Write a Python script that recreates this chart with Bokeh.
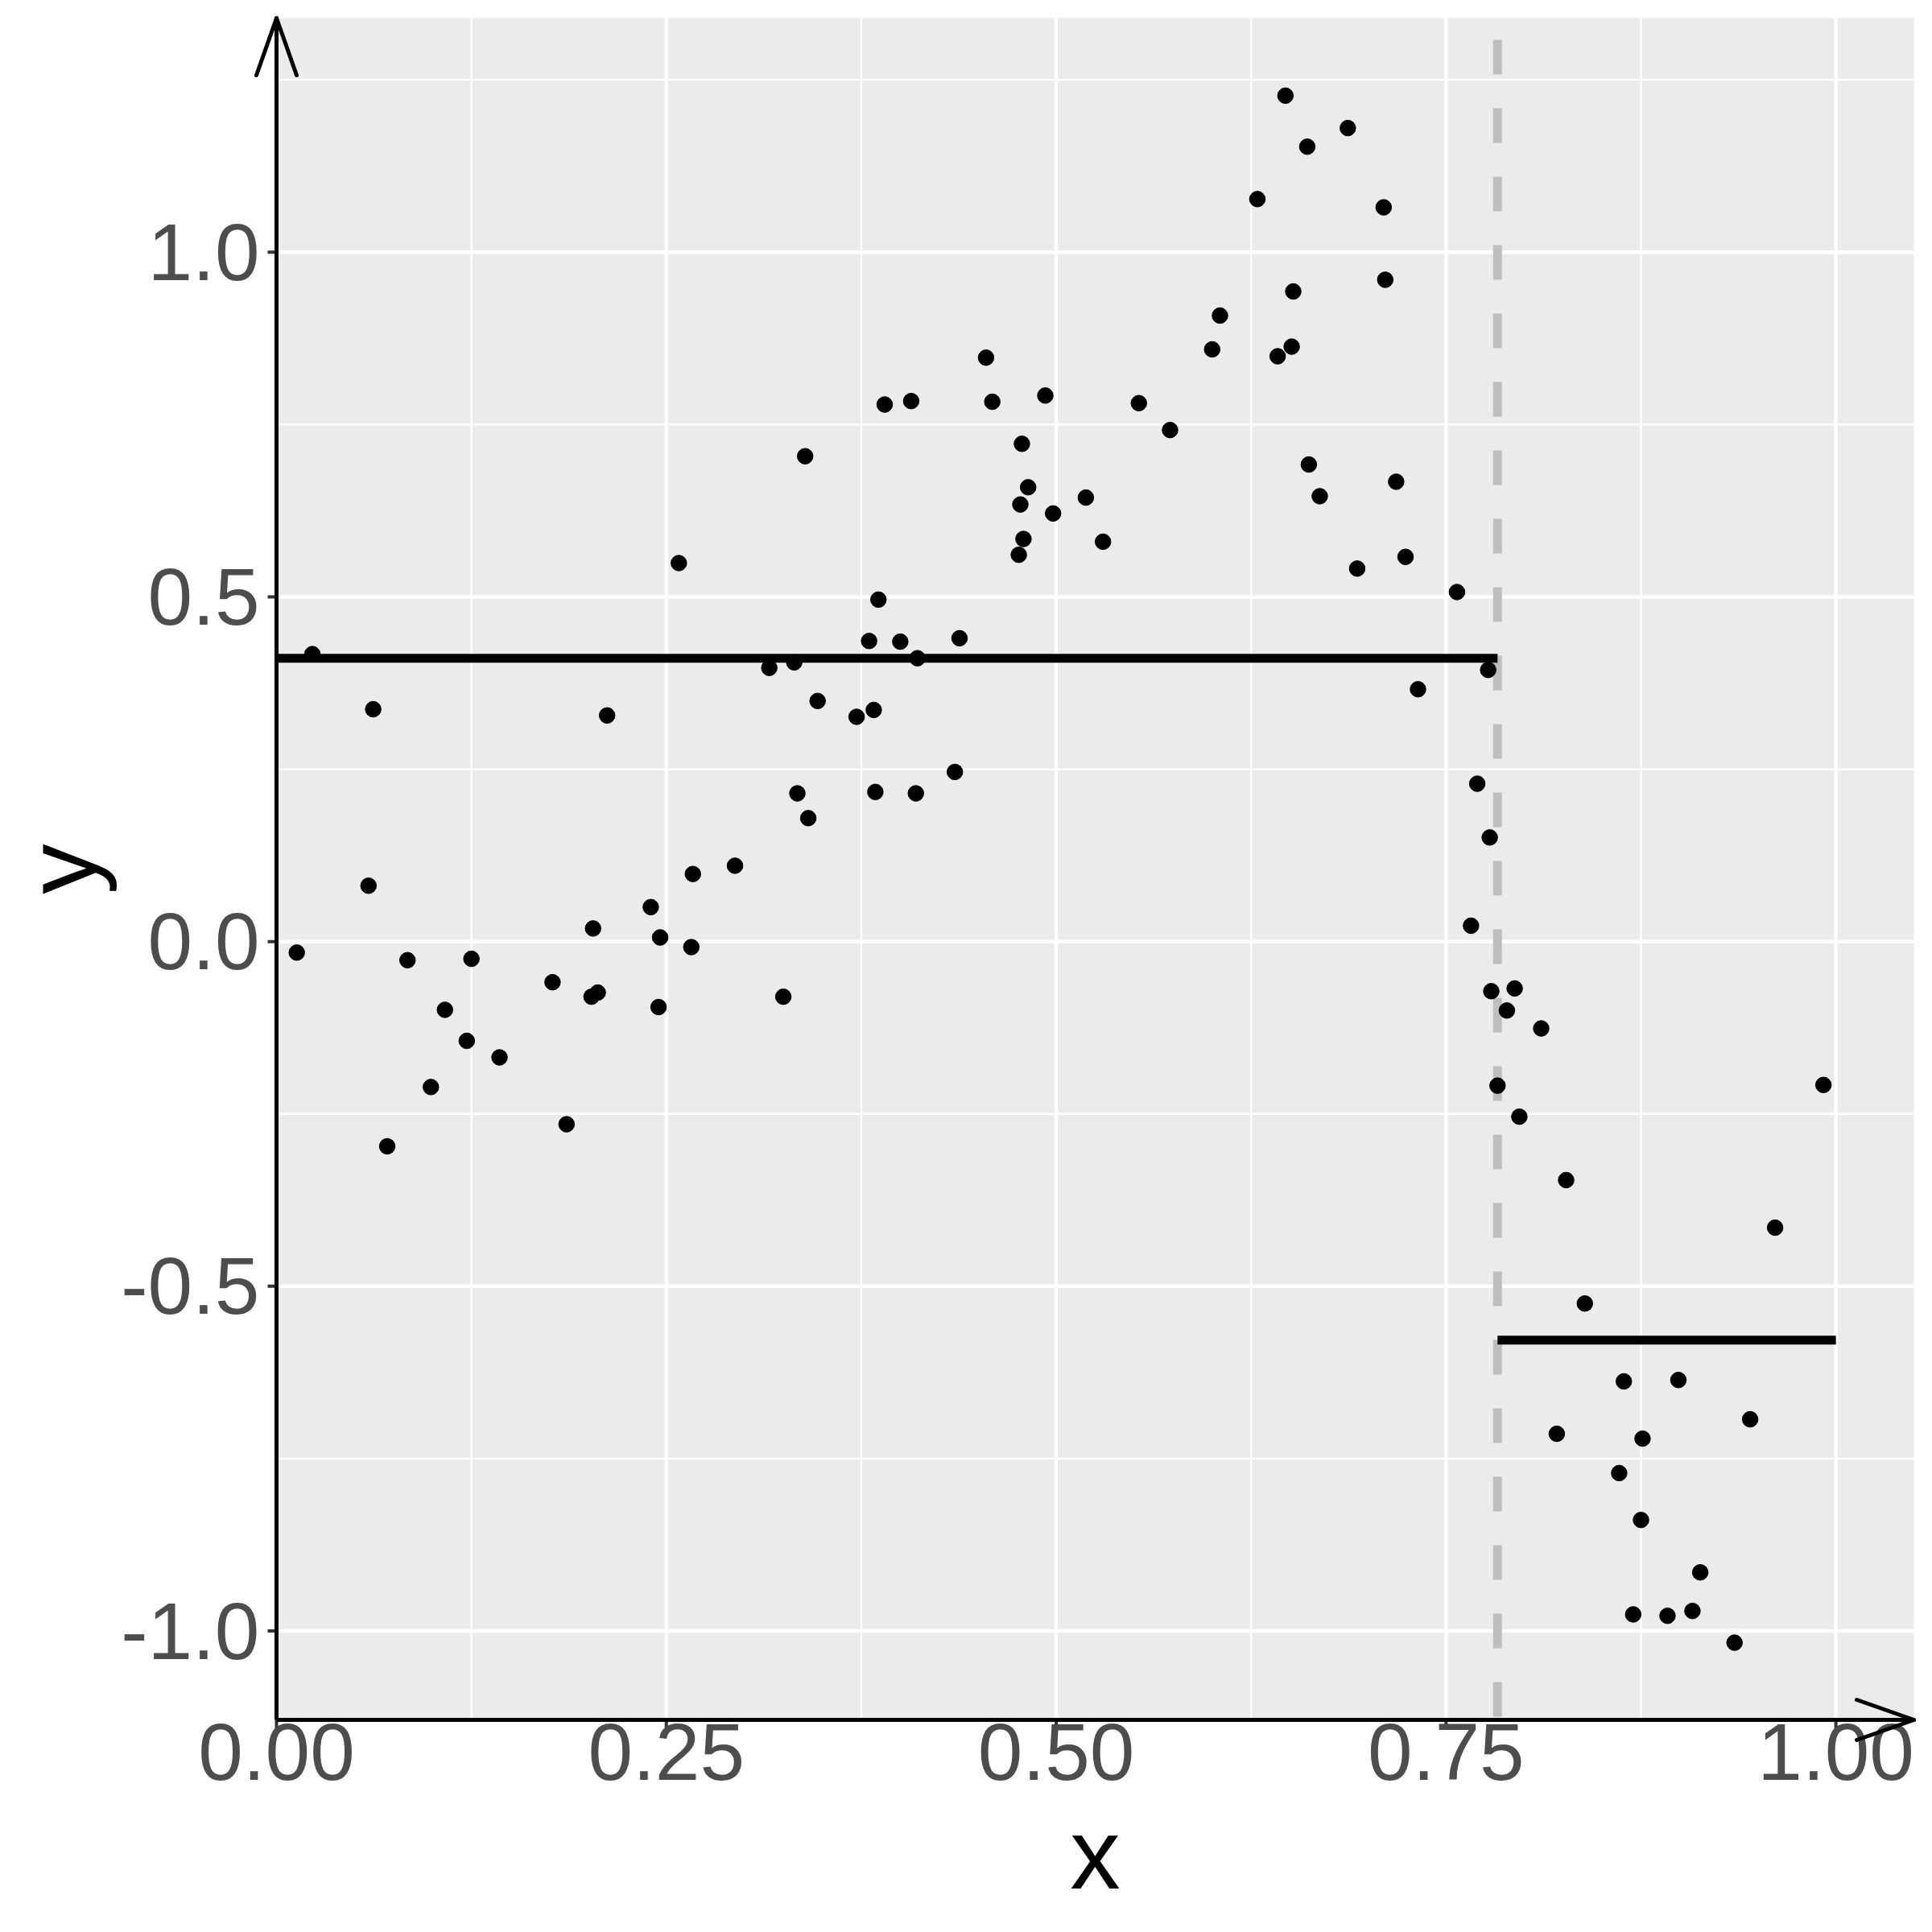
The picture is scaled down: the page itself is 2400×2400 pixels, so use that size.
from bokeh.plotting import figure
from bokeh.models import Range1d, FixedTicker, Arrow, ColumnDataSource, BoxAnnotation, Title
from bokeh.embed import file_html
from bokeh.resources import INLINE

# ---- data ----
x = [0.339, 0.258,
     0.647, 0.687, 0.661, 0.629, 0.710, 0.711, 0.652, 0.605, 0.600, 0.642,
     0.651, 0.455, 0.390, 0.407, 0.459, 0.493, 0.553, 0.573, 0.478, 0.662,
     0.669, 0.482, 0.477, 0.498, 0.519, 0.479, 0.476, 0.530, 0.693,
     0.718, 0.724,
     0.023, 0.062, 0.212, 0.316, 0.332, 0.347, 0.334, 0.341, 0.294, 0.267,
     0.059, 0.240, 0.203, 0.246, 0.266, 0.013, 0.084, 0.125, 0.177, 0.202,
     0.206, 0.245, 0.325, 0.108, 0.122, 0.143, 0.099, 0.186, 0.071,
     0.386, 0.380, 0.400, 0.438, 0.411, 0.372, 0.383, 0.384, 0.410, 0.435,
     0.757, 0.777, 0.732, 0.770, 0.778, 0.766, 0.779, 0.794, 0.789, 0.811,
     0.992, 0.783, 0.797,
     0.827, 0.961, 0.839, 0.864, 0.899, 0.945, 0.821, 0.876, 0.861, 0.875,
     0.913, 0.870, 0.892, 0.908, 0.935]
y = [0.704, 0.549,
     1.227, 1.180, 1.153, 1.077, 1.065, 0.960, 0.943, 0.908, 0.859, 0.849,
     0.863, 0.847, 0.779, 0.784, 0.783, 0.792, 0.781, 0.742, 0.722, 0.692,
     0.646, 0.659, 0.634, 0.621, 0.644, 0.584, 0.561, 0.580, 0.541,
     0.667, 0.558,
     0.417, 0.337, 0.328, 0.397, 0.405, 0.349, 0.215, 0.179, 0.110, 0.098,
     0.081, 0.050, 0.019, 0.006, -0.008, -0.016, -0.027, -0.025, -0.059, -0.080,
     -0.074, -0.095, -0.080, -0.099, -0.144, -0.168, -0.211, -0.265, -0.297,
     0.496, 0.436, 0.435, 0.440, 0.411, 0.326, 0.336, 0.217, 0.215, 0.246,
     0.507, 0.394, 0.366, 0.229, 0.151, 0.023, -0.072, -0.068, -0.100, -0.126,
     -0.208, -0.209, -0.254,
     -0.346, -0.415, -0.525, -0.638, -0.636, -0.693, -0.714, -0.721, -0.771, -0.839,
     -0.915, -0.976, -0.978, -0.971, -1.017]

split_x = 0.783
seg_x0 = [0.0, 0.783]
seg_x1 = [0.783, 1.0]
seg_y = [0.411, -0.578]

x_ticks = [0.0, 0.25, 0.5, 0.75, 1.0]
x_tick_labels = ["0.00", "0.25", "0.50", "0.75", "1.00"]
x_minor = [0.125, 0.375, 0.625, 0.875]
y_ticks = [-1.0, -0.5, 0.0, 0.5, 1.0]
y_tick_labels = ["-1.0", "-0.5", "0.0", "0.5", "1.0"]
y_minor = [-0.75, -0.25, 0.25, 0.75, 1.25]

x_lim = (0.0, 1.05)
y_lim = (-1.129, 1.3395)

FONT = "Liberation Sans"

# ---- geometry (pixels) ----
PANEL_W, PANEL_H = 2034, 2114
PAD_L, PAD_B, PAD_R, PAD_T = 28, 28, 3, 3
px_x = PANEL_W / (x_lim[1] - x_lim[0])
px_y = PANEL_H / (y_lim[1] - y_lim[0])
xr = Range1d(x_lim[0] - PAD_L / px_x, x_lim[1] + PAD_R / px_x)
yr = Range1d(y_lim[0] - PAD_B / px_y, y_lim[1] + PAD_T / px_y)
W, H = 2384, 2392
BL, BT = 315, 19
BR = W - BL - (PANEL_W + PAD_L + PAD_R)
BB = H - BT - (PANEL_H + PAD_B + PAD_T)

p = figure(width=W, height=H, output_backend="svg", toolbar_location=None,
           x_range=xr, y_range=yr,
           min_border_left=BL, min_border_right=BR, min_border_top=BT,
           min_border_bottom=BB)
p.background_fill_color = "white"
p.border_fill_color = "white"
p.outline_line_color = None
p.xgrid.visible = False
p.ygrid.visible = False

# panel background
p.add_layout(BoxAnnotation(left=x_lim[0], right=x_lim[1], bottom=y_lim[0], top=y_lim[1],
                           fill_color="#EBEBEB", fill_alpha=1, line_color=None,
                           level="underlay"))

# grid lines (restricted to the panel)
p.segment(x0=x_minor, x1=x_minor, y0=[y_lim[0]] * len(x_minor), y1=[y_lim[1]] * len(x_minor),
          line_color="white", line_width=2.3)
p.segment(x0=[x_lim[0]] * len(y_minor), x1=[x_lim[1]] * len(y_minor), y0=y_minor, y1=y_minor,
          line_color="white", line_width=2.3)
p.segment(x0=x_ticks, x1=x_ticks, y0=[y_lim[0]] * len(x_ticks), y1=[y_lim[1]] * len(x_ticks),
          line_color="white", line_width=4.5)
p.segment(x0=[x_lim[0]] * len(y_ticks), x1=[x_lim[1]] * len(y_ticks), y0=y_ticks, y1=y_ticks,
          line_color="white", line_width=4.5)

# axes: tick labels from bokeh, ticks drawn at the panel edge
p.xaxis.ticker = FixedTicker(ticks=x_ticks, minor_ticks=[])
p.yaxis.ticker = FixedTicker(ticks=y_ticks, minor_ticks=[])
p.xaxis.major_label_overrides = {t: l for t, l in zip(x_ticks, x_tick_labels)}
p.yaxis.major_label_overrides = {t: l for t, l in zip(y_ticks, y_tick_labels)}
for ax in (p.xaxis, p.yaxis):
    ax.axis_line_color = None
    ax.major_tick_out = 0
    ax.major_tick_in = 0
    ax.major_tick_line_color = None
    ax.minor_tick_line_color = None
    ax.major_label_text_font = FONT
    ax.major_label_text_font_size = "100px"
    ax.major_label_text_color = "#4D4D4D"
p.xaxis.major_label_standoff = -23
p.yaxis.major_label_standoff = -7

# axis titles, centred on the panel (not on the padded frame)
TITLE_SIZE = 125
glyph_half = 0.25 * TITLE_SIZE          # half advance width of "x"/"y"
x_title_offset = PAD_L + PANEL_W / 2 - glyph_half
y_title_offset = PAD_B + PANEL_H / 2 - glyph_half
p.add_layout(Title(text="x", align="left", offset=x_title_offset, standoff=38,
                   vertical_align="top", text_font=FONT,
                   text_font_size=f"{TITLE_SIZE}px", text_font_style="normal",
                   text_color="black"), "below")
p.add_layout(Title(text="y", align="left", offset=y_title_offset, standoff=2,
                   vertical_align="top", text_font=FONT,
                   text_font_size=f"{TITLE_SIZE}px", text_font_style="normal",
                   text_color="black"), "left")

TICK = 11
p.segment(x0=x_ticks, x1=x_ticks, y0=[y_lim[0]] * len(x_ticks),
          y1=[y_lim[0] - TICK / px_y] * len(x_ticks), line_color="#333333", line_width=4)
p.segment(x0=[x_lim[0]] * len(y_ticks), x1=[x_lim[0] - TICK / px_x] * len(y_ticks),
          y0=y_ticks, y1=y_ticks, line_color="#333333", line_width=4)

# dashed split line (drawn bottom to top)
p.line([split_x, split_x], [y_lim[0], y_lim[1]], line_color="#BEBEBE",
       line_width=11, line_dash="43 42", line_dash_offset=81)

# points
src = ColumnDataSource(dict(x=x, y=y))
p.scatter("x", "y", source=src, size=19.5, color="black")

# step segments
p.segment(x0=seg_x0, y0=seg_y, x1=seg_x1, y1=seg_y, line_color="black", line_width=11)

# axis lines with open arrow heads
head_len, head_half = 71, 25
AW = 5
p.add_layout(Arrow(end=None, x_start=0, y_start=y_lim[0], x_end=0, y_end=y_lim[1],
                   line_width=AW, line_color="black"))
p.add_layout(Arrow(end=None, x_start=0, y_start=y_lim[0], x_end=x_lim[1], y_end=y_lim[0],
                   line_width=AW, line_color="black"))
for s in (-1, 1):
    p.add_layout(Arrow(end=None, x_start=0, y_start=y_lim[1],
                       x_end=s * head_half / px_x, y_end=y_lim[1] - head_len / px_y,
                       line_width=AW, line_color="black", line_cap="round"))
    p.add_layout(Arrow(end=None, x_start=x_lim[1], y_start=y_lim[0],
                       x_end=x_lim[1] - head_len / px_x, y_end=y_lim[0] + s * head_half / px_y,
                       line_width=AW, line_color="black", line_cap="round"))

open("out.html", "w").write(file_html(p, INLINE))
